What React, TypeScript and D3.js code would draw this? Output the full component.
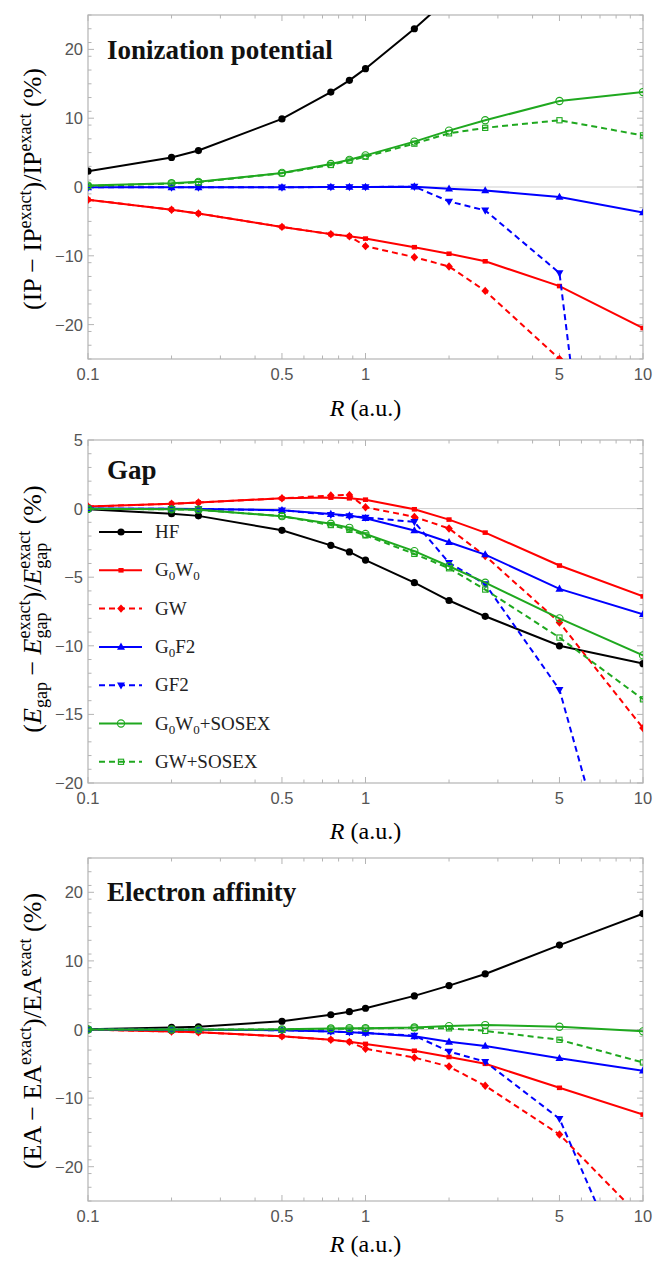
import React from 'react';
import * as d3 from 'd3';

// ---------- data ----------
const R = [0.1, 0.2, 0.25, 0.5, 0.75, 0.875, 1, 1.5, 2, 2.7, 5, 10];
const xTickValues = [0.1, 0.5, 1, 5, 10];
const xTickLabels = ['0.1', '0.5', '1', '5', '10'];
const xMinorTicks = [0.2, 0.3, 0.4, 0.6, 0.7, 0.8, 0.9, 2, 3, 4, 6, 7, 8, 9];

const methods = ['HF', 'G0W0', 'GW', 'G0F2', 'GF2', 'G0W0+SOSEX', 'GW+SOSEX'];

// Ionization potential (%)
const ipHF = [2.3, 4.3, 5.3, 9.9, 13.8, 15.5, 17.2, 23.0, 27.5];
const ipG0W0 = [-1.85, -3.3, -3.85, -5.8, -6.85, -7.15, -7.5, -8.75, -9.7, -10.8, -14.4, -20.5];
const ipGW = [-1.85, -3.3, -3.85, -5.8, -6.85, -7.15, -8.6, -10.2, -11.55, -15.1, -25.0, -45];
const ipG0F2 = [-0.05, -0.05, -0.05, -0.05, 0, 0, 0, 0.05, -0.25, -0.5, -1.45, -3.7];
const ipGF2 = [-0.05, -0.05, -0.05, -0.05, 0, 0, 0, 0.05, -2.1, -3.4, -12.5, -110];
const ipG0W0S = [0.2, 0.55, 0.75, 2.05, 3.35, 3.95, 4.6, 6.6, 8.2, 9.7, 12.5, 13.8];
const ipGWS = [0.15, 0.5, 0.7, 2.0, 3.2, 3.85, 4.4, 6.3, 7.8, 8.6, 9.7, 7.5];

// Gap (%)
const gapHF = [-0.05, -0.37, -0.53, -1.58, -2.68, -3.16, -3.75, -5.4, -6.7, -7.85, -10.0, -11.3];
const gapG0W0 = [0.15, 0.35, 0.45, 0.75, 0.8, 0.75, 0.65, -0.05, -0.8, -1.75, -4.15, -6.4];
const gapGW = [0.15, 0.35, 0.45, 0.75, 0.95, 1.0, 0.1, -0.6, -1.45, -3.45, -8.3, -16.0];
const gapG0F2 = [0, -0.02, -0.03, -0.12, -0.4, -0.5, -0.7, -1.6, -2.45, -3.35, -5.85, -7.7];
const gapGF2 = [0, -0.02, -0.03, -0.12, -0.45, -0.55, -0.65, -0.97, -3.95, -5.5, -13.2, -35];
const gapG0W0S = [-0.02, -0.05, -0.08, -0.55, -1.1, -1.4, -1.85, -3.1, -4.2, -5.4, -8.0, -10.7];
const gapGWS = [-0.02, -0.05, -0.08, -0.55, -1.2, -1.55, -1.95, -3.3, -4.35, -5.9, -9.4, -13.9];

// Electron affinity (%)
const eaHF = [0.02, 0.3, 0.4, 1.2, 2.15, 2.6, 3.1, 4.9, 6.4, 8.1, 12.3, 16.9];
const eaG0W0 = [0, -0.3, -0.4, -1.0, -1.5, -1.8, -2.1, -3.1, -4.0, -5.0, -8.5, -12.4];
const eaGW = [0, -0.3, -0.4, -1.0, -1.5, -1.8, -2.8, -4.1, -5.4, -8.2, -15.3, -27.7];
const eaG0F2 = [0, -0.05, -0.05, -0.1, -0.3, -0.4, -0.5, -1.0, -1.8, -2.4, -4.2, -6.0];
const eaGF2 = [0, -0.05, -0.05, -0.1, -0.3, -0.4, -0.5, -0.9, -3.2, -4.7, -13.0, -41];
const eaG0W0S = [0, 0, 0, 0.02, 0.15, 0.2, 0.2, 0.3, 0.5, 0.65, 0.4, -0.27];
const eaGWS = [0, 0, 0, 0, 0.1, 0.12, 0.15, 0.25, 0.17, -0.2, -1.5, -4.8];

const ipTicks = [-20, -10, 0, 10, 20];
const gapTicks = [-20, -15, -10, -5, 0, 5];
const eaTicks = [-20, -10, 0, 10, 20];

// ---------- styles ----------
const GREEN = '#1fa81f';
const styles: Record<string, { color: string; dash: boolean; marker: string }> = {
  HF: { color: '#000000', dash: false, marker: 'circle' },
  G0W0: { color: '#ff0000', dash: false, marker: 'square' },
  GW: { color: '#ff0000', dash: true, marker: 'diamond' },
  G0F2: { color: '#0000ff', dash: false, marker: 'triUp' },
  GF2: { color: '#0000ff', dash: true, marker: 'triDown' },
  'G0W0+SOSEX': { color: GREEN, dash: false, marker: 'openCircle' },
  'GW+SOSEX': { color: GREEN, dash: true, marker: 'openSquare' },
};

const SERIF = '"Liberation Serif", "Times New Roman", serif';
const SANS = '"Liberation Sans", Arial, sans-serif';
const PL = 88;
const PR = 643;
const xScale = d3.scaleLog().domain([0.1, 10]).range([PL, PR]);

function Marker({ type, x, y, color }: { type: string; x: number; y: number; color: string }) {
  switch (type) {
    case 'circle':
      return <circle cx={x} cy={y} r={3.6} fill={color} />;
    case 'square':
      return <rect x={x - 2.6} y={y - 2.3} width={5.2} height={4.6} fill={color} />;
    case 'diamond':
      return <path d={`M${x},${y - 4.2}L${x + 3.8},${y}L${x},${y + 4.2}L${x - 3.8},${y}Z`} fill={color} />;
    case 'triUp':
      return <path d={`M${x},${y - 4.3}L${x + 4},${y + 2.8}L${x - 4},${y + 2.8}Z`} fill={color} />;
    case 'triDown':
      return <path d={`M${x},${y + 4.3}L${x + 4},${y - 2.8}L${x - 4},${y - 2.8}Z`} fill={color} />;
    case 'openCircle':
      return <circle cx={x} cy={y} r={3.6} fill="none" stroke={color} strokeWidth={1.1} />;
    case 'openSquare':
      return <rect x={x - 2.6} y={y - 2.6} width={5.2} height={5.2} fill="none" stroke={color} strokeWidth={1.1} />;
    default:
      return null;
  }
}

type PanelProps = {
  id: string;
  top: number;
  bottom: number;
  domain: [number, number];
  ticks: number[];
  minorStep: number;
  series: number[][];
  title: string;
  titleBaseline: number;
  xLabelBaseline: number;
  ylabel: React.ReactNode;
  legend?: boolean;
};

function Panel({ id, top, bottom, domain, ticks, minorStep, series, title, titleBaseline, xLabelBaseline, ylabel, legend }: PanelProps) {
  const y = d3.scaleLinear().domain(domain).range([bottom, top]);
  const line = d3
    .line<[number, number]>()
    .x((d) => xScale(d[0]))
    .y((d) => y(d[1]));
  const minors = d3.range(domain[0], domain[1] + 1e-9, minorStep).filter((v) => !ticks.includes(v));
  const frame = '#b4b4b4';
  return (
    <g>
      <defs>
        <clipPath id={`clip-${id}`}>
          <rect x={PL} y={top} width={PR - PL} height={bottom - top} />
        </clipPath>
      </defs>
      <line x1={PL} x2={PR} y1={y(0)} y2={y(0)} stroke="#cfcfcf" strokeWidth={1} />
      <rect x={PL} y={top} width={PR - PL} height={bottom - top} fill="none" stroke={frame} strokeWidth={1.2} />
      {xTickValues.map((v) => (
        <g key={`xt${v}`}>
          <line x1={xScale(v)} x2={xScale(v)} y1={bottom} y2={bottom - 6} stroke={frame} />
          <line x1={xScale(v)} x2={xScale(v)} y1={top} y2={top + 6} stroke={frame} />
        </g>
      ))}
      {xMinorTicks.map((v) => (
        <g key={`xm${v}`}>
          <line x1={xScale(v)} x2={xScale(v)} y1={bottom} y2={bottom - 3.5} stroke={frame} />
          <line x1={xScale(v)} x2={xScale(v)} y1={top} y2={top + 3.5} stroke={frame} />
        </g>
      ))}
      {ticks.map((v) => (
        <g key={`yt${v}`}>
          <line x1={PL} x2={PL + 6} y1={y(v)} y2={y(v)} stroke={frame} />
          <line x1={PR} x2={PR - 6} y1={y(v)} y2={y(v)} stroke={frame} />
        </g>
      ))}
      {minors.map((v) => (
        <g key={`ym${v}`}>
          <line x1={PL} x2={PL + 3.5} y1={y(v)} y2={y(v)} stroke={frame} />
          <line x1={PR} x2={PR - 3.5} y1={y(v)} y2={y(v)} stroke={frame} />
        </g>
      ))}
      {xTickValues.map((v, i) => (
        <text key={`xl${v}`} x={xScale(v)} y={bottom + 21} textAnchor="middle" fontFamily={SANS} fontSize={16.5} fill="#555">
          {xTickLabels[i]}
        </text>
      ))}
      {ticks.map((v) => (
        <text key={`yl${v}`} x={83} y={y(v) + 6} textAnchor="end" fontFamily={SANS} fontSize={16.5} fill="#555">
          {v < 0 ? `\u2212${Math.abs(v)}` : `${v}`}
        </text>
      ))}
      <g clipPath={`url(#clip-${id})`}>
        {series.map((vals, si) => {
          const st = styles[methods[si]];
          const pts: [number, number][] = vals.map((v, i) => [R[i], v]);
          return (
            <g key={`s${si}`}>
              <path d={line(pts) || ''} fill="none" stroke={st.color} strokeWidth={2} strokeDasharray={st.dash ? '6,4' : undefined} />
              {pts.map((p, i) => (
                <Marker key={i} type={st.marker} x={xScale(p[0])} y={y(p[1])} color={st.color} />
              ))}
            </g>
          );
        })}
      </g>
      <text x={107} y={titleBaseline} fontFamily={SERIF} fontWeight="bold" fontSize={27} fill="#111">
        {title}
      </text>
      <text x={(PL + PR) / 2} y={xLabelBaseline} textAnchor="middle" fontFamily={SERIF} fontSize={24}>
        <tspan fontStyle="italic">R</tspan> (a.u.)
      </text>
      {ylabel}
      {legend && <Legend />}
    </g>
  );
}

function Sub0() {
  return (
    <tspan fontSize={13} dy={4}>
      0
    </tspan>
  );
}

function legendLabel(m: string) {
  switch (m) {
    case 'G0W0':
      return (
        <>
          G<Sub0 />
          <tspan dy={-4}>W</tspan>
          <Sub0 />
        </>
      );
    case 'G0F2':
      return (
        <>
          G<Sub0 />
          <tspan dy={-4}>F2</tspan>
        </>
      );
    case 'G0W0+SOSEX':
      return (
        <>
          G<Sub0 />
          <tspan dy={-4}>W</tspan>
          <Sub0 />
          <tspan dy={-4}>+SOSEX</tspan>
        </>
      );
    default:
      return m;
  }
}

function Legend() {
  const y0 = 532;
  const dy = 38.3;
  return (
    <g>
      {methods.map((m, i) => {
        const st = styles[m];
        const yy = y0 + i * dy;
        return (
          <g key={m}>
            <line x1={99} x2={142} y1={yy} y2={yy} stroke={st.color} strokeWidth={2} strokeDasharray={st.dash ? '6,4' : undefined} />
            <Marker type={st.marker} x={121} y={yy} color={st.color} />
            <text x={155} y={yy + 6} fontFamily={SERIF} fontSize={19} fill="#222">
              {legendLabel(m)}
            </text>
          </g>
        );
      })}
    </g>
  );
}

function YLabelIP() {
  return (
    <text transform="translate(41,189) rotate(-90)" textAnchor="middle" fontFamily={SERIF} fontSize={26}>
      (IP − IP<tspan fontSize={18} dy={-10}>exact</tspan>
      <tspan dy={10}>)/IP</tspan>
      <tspan fontSize={18} dy={-10}>exact</tspan>
      <tspan dy={10}>{'\u00a0(%)'}</tspan>
    </text>
  );
}

function YLabelEA() {
  return (
    <text transform="translate(41,1031) rotate(-90)" textAnchor="middle" fontFamily={SERIF} fontSize={26}>
      (EA − EA<tspan fontSize={18} dy={-10}>exact</tspan>
      <tspan dy={10}>)/EA</tspan>
      <tspan fontSize={18} dy={-10}>exact</tspan>
      <tspan dy={10}>{'\u00a0(%)'}</tspan>
    </text>
  );
}

function YLabelGap() {
  return (
    <text transform="translate(41,609) rotate(-90)" textAnchor="middle" fontFamily={SERIF} fontSize={26}>
      (<tspan fontStyle="italic">E</tspan>
      <tspan fontSize={18} dy={6}>gap</tspan>
      <tspan dy={-6}>{'\u00a0−\u00a0'}</tspan>
      <tspan fontStyle="italic">E</tspan>
      <tspan fontSize={18} dy={6}>gap</tspan>
      <tspan fontSize={18} dx={-26} dy={-17}>exact</tspan>
      <tspan dy={11}>)/</tspan>
      <tspan fontStyle="italic">E</tspan>
      <tspan fontSize={18} dy={6}>gap</tspan>
      <tspan fontSize={18} dx={-26} dy={-17}>exact</tspan>
      <tspan dy={11}>{'\u00a0(%)'}</tspan>
    </text>
  );
}

export default function App() {
  return (
    <svg width={655} height={1261} style={{ position: 'absolute', left: 0, top: 0, background: '#fff' }}>
      <Panel
        id="ip"
        top={15}
        bottom={359}
        domain={[-25, 25]}
        ticks={ipTicks}
        minorStep={2}
        series={[ipHF, ipG0W0, ipGW, ipG0F2, ipGF2, ipG0W0S, ipGWS]}
        title="Ionization potential"
        titleBaseline={59}
        xLabelBaseline={416}
        ylabel={<YLabelIP />}
      />
      <Panel
        id="gap"
        top={440}
        bottom={783}
        domain={[-20, 5]}
        ticks={gapTicks}
        minorStep={1}
        series={[gapHF, gapG0W0, gapGW, gapG0F2, gapGF2, gapG0W0S, gapGWS]}
        title="Gap"
        titleBaseline={479}
        xLabelBaseline={839}
        ylabel={<YLabelGap />}
        legend
      />
      <Panel
        id="ea"
        top={858}
        bottom={1201}
        domain={[-25, 25]}
        ticks={eaTicks}
        minorStep={2}
        series={[eaHF, eaG0W0, eaGW, eaG0F2, eaGF2, eaG0W0S, eaGWS]}
        title="Electron affinity"
        titleBaseline={901}
        xLabelBaseline={1252}
        ylabel={<YLabelEA />}
      />
    </svg>
  );
}
